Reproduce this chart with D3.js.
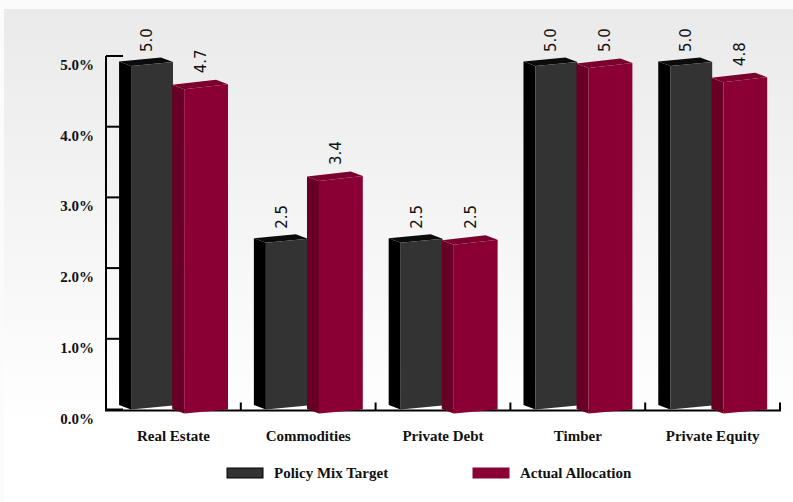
<!DOCTYPE html>
<html>
<head>
<meta charset="utf-8">
<script src="https://cdn.jsdelivr.net/npm/d3@7"></script>
<style>
  html, body { margin: 0; padding: 0; background: #fbfbfb; }
  svg { display: block; }
</style>
</head>
<body>
<svg id="chart" width="793" height="502"></svg>
<script>
// Allocation data (% of total portfolio)
const categories = ["Real Estate", "Commodities", "Private Debt", "Timber", "Private Equity"];
const policyTarget = [5.0, 2.5, 2.5, 5.0, 5.0];
const actualAllocation = [4.7, 3.4, 2.5, 5.0, 4.8];
const seriesNames = ["Policy Mix Target", "Actual Allocation"];
const yTicks = [0, 1, 2, 3, 4, 5];

const W = 793, H = 502;
const svg = d3.select("#chart");
const serif = "'Liberation Serif', 'Times New Roman', serif";
const sans = "'DejaVu Sans', Verdana, sans-serif";

// Panel background with a soft vertical gradient
const defs = svg.append("defs");
const grad = defs.append("linearGradient").attr("id", "panelGrad")
  .attr("x1", 0).attr("y1", 0).attr("x2", 0).attr("y2", 1);
grad.append("stop").attr("offset", "0%").attr("stop-color", "#eaeaea");
grad.append("stop").attr("offset", "85%").attr("stop-color", "#ffffff");
grad.append("stop").attr("offset", "100%").attr("stop-color", "#ffffff");
svg.append("rect").attr("x", 0).attr("y", 0).attr("width", W).attr("height", H).attr("fill", "#fbfbfb");
svg.append("rect").attr("x", 4).attr("y", 9).attr("width", W - 4).attr("height", H - 9)
  .attr("fill", "url(#panelGrad)");

// Scales
const y = d3.scaleLinear().domain([0, 5]).range([409.5, 56]);
const x = d3.scaleBand().domain(categories).range([106, 780]).paddingInner(0).paddingOuter(0);
const bw = x.bandwidth();

// Axes
const axisG = svg.append("g");
axisG.append("line").attr("x1", 106).attr("x2", 106).attr("y1", y(5)).attr("y2", y(0) + 1)
  .attr("stroke", "#000").attr("stroke-width", 2);
axisG.append("line").attr("x1", 105).attr("x2", 781).attr("y1", y(0) + 1).attr("y2", y(0) + 1)
  .attr("stroke", "#000").attr("stroke-width", 2);
axisG.selectAll(".ytick").data(yTicks).enter().append("line")
  .attr("x1", 106).attr("x2", 123)
  .attr("y1", d => y(d)).attr("y2", d => y(d))
  .attr("stroke", "#000").attr("stroke-width", 2);
axisG.selectAll(".ylab").data(yTicks).enter().append("text")
  .attr("x", 94).attr("y", d => y(d) + 14)
  .attr("text-anchor", "end")
  .attr("font-family", serif).attr("font-weight", "bold").attr("font-size", 15)
  .attr("fill", "#111")
  .text(d => d3.format(".1f")(d) + "%");
// Category separators on the baseline
axisG.selectAll(".xtick").data(categories).enter().append("line")
  .attr("x1", d => x(d) + bw).attr("x2", d => x(d) + bw)
  .attr("y1", y(0) - 7).attr("y2", y(0) + 1)
  .attr("stroke", "#000").attr("stroke-width", 2);
axisG.selectAll(".xlab").data(categories).enter().append("text")
  .attr("x", d => x(d) + bw / 2).attr("y", 441)
  .attr("text-anchor", "middle")
  .attr("font-family", serif).attr("font-weight", "bold").attr("font-size", 15)
  .attr("fill", "#111")
  .text(d => d);

// 3D bar styling per series
const styles = [
  { x0: 0.186, x1: 0.497, front: "#333333", side: "#000000", top: "#0b0b0b",
    topL: 10, topR: 6, botL: 0, botR: -4, values: policyTarget },
  { x0: 0.580, x1: 0.905, front: "#8a0034", side: "#680026", top: "#7a002e",
    topL: 12, topR: 7, botL: 4, botR: 0, values: actualAllocation }
];
const depth = [-12, -4.5];

const bars = [];
styles.forEach((s, si) => {
  categories.forEach((c, i) => {
    const v = s.values[i];
    const xl = x(c) + s.x0 * bw, xr = x(c) + s.x1 * bw;
    const TL = [xl, y(v) + s.topL], TR = [xr, y(v) + s.topR];
    const BL = [xl, y(0) + s.botL], BR = [xr, y(0) + s.botR];
    bars.push({ si, c, v, s, TL, TR, BL, BR });
  });
});

const shift = p => [p[0] + depth[0], p[1] + depth[1]];
const poly = pts => pts.map(p => p.join(",")).join(" ");

const barG = svg.append("g");
bars.forEach(b => {
  const g = barG.append("g");
  g.append("polygon").attr("points", poly([b.TL, shift(b.TL), shift(b.BL), b.BL]))
    .attr("fill", b.s.side);
  g.append("polygon").attr("points", poly([b.TL, shift(b.TL), shift(b.TR), b.TR]))
    .attr("fill", b.s.top);
  g.append("polygon").attr("points", poly([b.TL, b.TR, b.BR, b.BL]))
    .attr("fill", b.s.front);
  // value label, rotated to read upward
  const cx = (shift(b.TL)[0] + b.TR[0]) / 2;
  const ly = y(b.v) - 4;
  g.append("text")
    .attr("transform", `translate(${cx + 6},${ly}) rotate(-90)`)
    .attr("font-family", sans).attr("font-size", 15)
    .attr("fill", "#111")
    .text(d3.format(".1f")(b.v));
});

// Legend
const legend = svg.append("g");
const legendItems = [
  { name: seriesNames[0], x: 227, fill: "#333333", stroke: "#000" },
  { name: seriesNames[1], x: 473, fill: "#8a0034", stroke: "#8a0034" }
];
legendItems.forEach(d => {
  legend.append("rect").attr("x", d.x).attr("y", 468).attr("width", 36).attr("height", 10)
    .attr("fill", d.fill).attr("stroke", d.stroke).attr("stroke-width", 1);
  legend.append("text").attr("x", d.x + 47).attr("y", 478)
    .attr("font-family", serif).attr("font-weight", "bold").attr("font-size", 15)
    .attr("fill", "#111").text(d.name);
});
</script>
</body>
</html>
